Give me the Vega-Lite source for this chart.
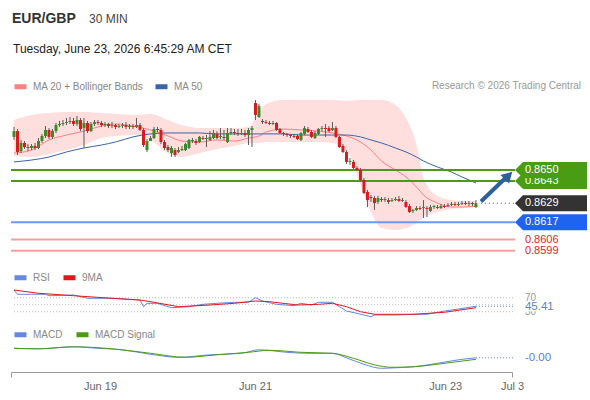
{
"$schema": "https://vega.github.io/schema/vega-lite/v6.json",
"width": 590, "height": 372,
"autosize": "none",
"padding": {"left": 0, "top": 0, "right": 0, "bottom": 28},
"background": "white",
"config": {
  "view": {"stroke": null},
  "font": "Liberation Sans",
  "legend": {"symbolType": "stroke", "symbolStrokeWidth": 5, "symbolSize": 144, "labelFontSize": 10, "labelColor": "#888888", "labelFont": "Liberation Sans", "columnPadding": 3, "labelOffset": 4, "padding": 0, "titlePadding": 0}
},
"datasets": {
"candles": [
{"i":0,"o":0.86709,"h":0.86772,"l":0.8669,"c":0.86746},
{"i":1,"o":0.86746,"h":0.86759,"l":0.86595,"c":0.86614},
{"i":2,"o":0.8662,"h":0.8669,"l":0.86607,"c":0.86671},
{"i":3,"o":0.86671,"h":0.86683,"l":0.86633,"c":0.86645},
{"i":4,"o":0.86645,"h":0.86664,"l":0.8662,"c":0.86639},
{"i":5,"o":0.86639,"h":0.86664,"l":0.86626,"c":0.86652},
{"i":6,"o":0.86652,"h":0.86671,"l":0.86626,"c":0.86639},
{"i":7,"o":0.86639,"h":0.86702,"l":0.86633,"c":0.86683},
{"i":8,"o":0.86683,"h":0.86728,"l":0.86671,"c":0.86715},
{"i":9,"o":0.86715,"h":0.86778,"l":0.86702,"c":0.86753},
{"i":10,"o":0.86753,"h":0.86765,"l":0.86696,"c":0.86709},
{"i":11,"o":0.86709,"h":0.86759,"l":0.86696,"c":0.86746},
{"i":12,"o":0.86746,"h":0.86797,"l":0.86734,"c":0.86784},
{"i":13,"o":0.86784,"h":0.8681,"l":0.86772,"c":0.86791},
{"i":14,"o":0.86791,"h":0.86816,"l":0.86778,"c":0.86797},
{"i":15,"o":0.86797,"h":0.86829,"l":0.86784,"c":0.86803},
{"i":16,"o":0.86803,"h":0.86835,"l":0.86791,"c":0.8681},
{"i":17,"o":0.8681,"h":0.86829,"l":0.86778,"c":0.86791},
{"i":18,"o":0.86791,"h":0.86841,"l":0.86778,"c":0.86816},
{"i":19,"o":0.86816,"h":0.86829,"l":0.86746,"c":0.86759},
{"i":20,"o":0.86765,"h":0.86829,"l":0.86639,"c":0.86797},
{"i":21,"o":0.86797,"h":0.8681,"l":0.86734,"c":0.86746},
{"i":22,"o":0.86746,"h":0.86803,"l":0.8674,"c":0.86791},
{"i":23,"o":0.86791,"h":0.86816,"l":0.86778,"c":0.86803},
{"i":24,"o":0.86803,"h":0.86816,"l":0.86784,"c":0.86797},
{"i":25,"o":0.86797,"h":0.8681,"l":0.86772,"c":0.86784},
{"i":26,"o":0.86784,"h":0.86803,"l":0.86772,"c":0.86791},
{"i":27,"o":0.86791,"h":0.86797,"l":0.86765,"c":0.86778},
{"i":28,"o":0.86778,"h":0.86803,"l":0.86765,"c":0.86784},
{"i":29,"o":0.86784,"h":0.86791,"l":0.86759,"c":0.86772},
{"i":30,"o":0.86772,"h":0.86791,"l":0.86765,"c":0.86778},
{"i":31,"o":0.86778,"h":0.86797,"l":0.86765,"c":0.86784},
{"i":32,"o":0.86784,"h":0.86803,"l":0.86759,"c":0.86772},
{"i":33,"o":0.86772,"h":0.86791,"l":0.86759,"c":0.86778},
{"i":34,"o":0.86778,"h":0.86791,"l":0.86759,"c":0.86772},
{"i":35,"o":0.86772,"h":0.86829,"l":0.86765,"c":0.86784},
{"i":36,"o":0.86784,"h":0.86797,"l":0.86746,"c":0.86753},
{"i":37,"o":0.86753,"h":0.86765,"l":0.86645,"c":0.86658},
{"i":38,"o":0.86626,"h":0.86696,"l":0.86614,"c":0.86683},
{"i":39,"o":0.86683,"h":0.86715,"l":0.86683,"c":0.86702},
{"i":40,"o":0.86702,"h":0.86772,"l":0.86696,"c":0.86759},
{"i":41,"o":0.86759,"h":0.86772,"l":0.8674,"c":0.86753},
{"i":42,"o":0.86753,"h":0.86765,"l":0.86664,"c":0.86677},
{"i":43,"o":0.86677,"h":0.8669,"l":0.86626,"c":0.86639},
{"i":44,"o":0.86645,"h":0.86658,"l":0.86614,"c":0.86626},
{"i":45,"o":0.86607,"h":0.86652,"l":0.86582,"c":0.86639},
{"i":46,"o":0.86626,"h":0.86639,"l":0.86582,"c":0.86595},
{"i":47,"o":0.86614,"h":0.86645,"l":0.86607,"c":0.86626},
{"i":48,"o":0.86626,"h":0.86652,"l":0.8662,"c":0.86633},
{"i":49,"o":0.86626,"h":0.86671,"l":0.8662,"c":0.86664},
{"i":50,"o":0.86639,"h":0.86696,"l":0.86633,"c":0.8669},
{"i":51,"o":0.86683,"h":0.86702,"l":0.86671,"c":0.8669},
{"i":52,"o":0.86683,"h":0.86696,"l":0.86658,"c":0.86671},
{"i":53,"o":0.86677,"h":0.86715,"l":0.86671,"c":0.86709},
{"i":54,"o":0.86702,"h":0.86715,"l":0.8669,"c":0.86696},
{"i":55,"o":0.86696,"h":0.86721,"l":0.86645,"c":0.86702},
{"i":56,"o":0.8669,"h":0.86746,"l":0.86683,"c":0.86709},
{"i":57,"o":0.86702,"h":0.86753,"l":0.86696,"c":0.86734},
{"i":58,"o":0.86728,"h":0.86746,"l":0.86696,"c":0.86702},
{"i":59,"o":0.86709,"h":0.86765,"l":0.86696,"c":0.86715},
{"i":60,"o":0.86709,"h":0.86753,"l":0.8669,"c":0.86702},
{"i":61,"o":0.86677,"h":0.86765,"l":0.86671,"c":0.86734},
{"i":62,"o":0.86734,"h":0.86765,"l":0.86721,"c":0.8674},
{"i":63,"o":0.8674,"h":0.86759,"l":0.86721,"c":0.86734},
{"i":64,"o":0.86734,"h":0.86759,"l":0.86715,"c":0.86728},
{"i":65,"o":0.86728,"h":0.86759,"l":0.86721,"c":0.86734},
{"i":66,"o":0.86734,"h":0.86753,"l":0.86709,"c":0.86721},
{"i":67,"o":0.86721,"h":0.86765,"l":0.86658,"c":0.86753},
{"i":68,"o":0.86753,"h":0.86778,"l":0.86645,"c":0.86765},
{"i":69,"o":0.86923,"h":0.86942,"l":0.86816,"c":0.86848},
{"i":70,"o":0.86835,"h":0.86917,"l":0.86829,"c":0.86904},
{"i":71,"o":0.8681,"h":0.86822,"l":0.86791,"c":0.86803},
{"i":72,"o":0.86803,"h":0.86816,"l":0.86791,"c":0.86797},
{"i":73,"o":0.86797,"h":0.8681,"l":0.86784,"c":0.86791},
{"i":74,"o":0.86791,"h":0.8681,"l":0.86784,"c":0.86797},
{"i":75,"o":0.86797,"h":0.86803,"l":0.86746,"c":0.86753},
{"i":76,"o":0.86759,"h":0.86765,"l":0.86728,"c":0.86734},
{"i":77,"o":0.86734,"h":0.8674,"l":0.86715,"c":0.86728},
{"i":78,"o":0.86728,"h":0.86734,"l":0.86709,"c":0.86721},
{"i":79,"o":0.86721,"h":0.86728,"l":0.86702,"c":0.86715},
{"i":80,"o":0.86715,"h":0.86728,"l":0.86702,"c":0.86709},
{"i":81,"o":0.86715,"h":0.86728,"l":0.8669,"c":0.86696},
{"i":82,"o":0.8669,"h":0.8674,"l":0.86683,"c":0.86734},
{"i":83,"o":0.86728,"h":0.86778,"l":0.86721,"c":0.86765},
{"i":84,"o":0.86759,"h":0.86772,"l":0.86734,"c":0.8674},
{"i":85,"o":0.8674,"h":0.86753,"l":0.86702,"c":0.86709},
{"i":86,"o":0.86702,"h":0.86746,"l":0.86696,"c":0.86734},
{"i":87,"o":0.86728,"h":0.86765,"l":0.86721,"c":0.86759},
{"i":88,"o":0.86759,"h":0.86778,"l":0.86746,"c":0.86765},
{"i":89,"o":0.86765,"h":0.86791,"l":0.86709,"c":0.86759},
{"i":90,"o":0.86765,"h":0.86778,"l":0.8674,"c":0.86746},
{"i":91,"o":0.86753,"h":0.86803,"l":0.86746,"c":0.86765},
{"i":92,"o":0.86765,"h":0.86778,"l":0.86702,"c":0.86709},
{"i":93,"o":0.86709,"h":0.86715,"l":0.86639,"c":0.86645},
{"i":94,"o":0.86652,"h":0.86664,"l":0.86607,"c":0.86614},
{"i":95,"o":0.86614,"h":0.86626,"l":0.86538,"c":0.86551},
{"i":96,"o":0.86551,"h":0.86576,"l":0.86532,"c":0.86557},
{"i":97,"o":0.86551,"h":0.86563,"l":0.86506,"c":0.86513},
{"i":98,"o":0.86513,"h":0.86525,"l":0.86494,"c":0.865},
{"i":99,"o":0.865,"h":0.86513,"l":0.8643,"c":0.86437},
{"i":100,"o":0.86437,"h":0.86449,"l":0.86348,"c":0.86355},
{"i":101,"o":0.86361,"h":0.86374,"l":0.86266,"c":0.8631},
{"i":102,"o":0.86329,"h":0.86342,"l":0.86298,"c":0.86323},
{"i":103,"o":0.86323,"h":0.86336,"l":0.86247,"c":0.86291},
{"i":104,"o":0.86298,"h":0.86336,"l":0.86285,"c":0.86323},
{"i":105,"o":0.86317,"h":0.86329,"l":0.86298,"c":0.8631},
{"i":106,"o":0.8631,"h":0.86329,"l":0.86298,"c":0.86317},
{"i":107,"o":0.8631,"h":0.86323,"l":0.86285,"c":0.86298},
{"i":108,"o":0.86304,"h":0.86323,"l":0.86298,"c":0.8631},
{"i":109,"o":0.8631,"h":0.86329,"l":0.86304,"c":0.86317},
{"i":110,"o":0.86317,"h":0.86336,"l":0.86298,"c":0.86304},
{"i":111,"o":0.86304,"h":0.86323,"l":0.86298,"c":0.8631},
{"i":112,"o":0.86298,"h":0.8631,"l":0.8626,"c":0.86266},
{"i":113,"o":0.86272,"h":0.86285,"l":0.86228,"c":0.86235},
{"i":114,"o":0.86241,"h":0.86254,"l":0.86228,"c":0.86247},
{"i":115,"o":0.86247,"h":0.86272,"l":0.86241,"c":0.8626},
{"i":116,"o":0.8626,"h":0.86272,"l":0.86247,"c":0.86254},
{"i":117,"o":0.8626,"h":0.8631,"l":0.86197,"c":0.86266},
{"i":118,"o":0.8626,"h":0.86272,"l":0.86203,"c":0.86254},
{"i":119,"o":0.86241,"h":0.86279,"l":0.86235,"c":0.86266},
{"i":120,"o":0.86266,"h":0.86279,"l":0.86254,"c":0.86272},
{"i":121,"o":0.86266,"h":0.86279,"l":0.86254,"c":0.8626},
{"i":122,"o":0.8626,"h":0.86285,"l":0.86254,"c":0.86272},
{"i":123,"o":0.86272,"h":0.86285,"l":0.8626,"c":0.86266},
{"i":124,"o":0.86272,"h":0.86291,"l":0.86266,"c":0.86279},
{"i":125,"o":0.86279,"h":0.86298,"l":0.86272,"c":0.86285},
{"i":126,"o":0.86285,"h":0.86298,"l":0.86272,"c":0.86279},
{"i":127,"o":0.86279,"h":0.86298,"l":0.86272,"c":0.86285},
{"i":128,"o":0.86285,"h":0.86304,"l":0.86279,"c":0.86291},
{"i":129,"o":0.86291,"h":0.86304,"l":0.86279,"c":0.86285},
{"i":130,"o":0.86285,"h":0.86304,"l":0.86272,"c":0.86291},
{"i":131,"o":0.86291,"h":0.86298,"l":0.86272,"c":0.86285},
{"i":132,"o":0.86266,"h":0.8631,"l":0.8626,"c":0.8629}
],
"bands": [
{"i":0,"up":0.86816,"lo":0.86588},{"i":5,"up":0.86848,"lo":0.86582},{"i":10,"up":0.8686,"lo":0.86601},
{"i":15,"up":0.86867,"lo":0.86626},{"i":20,"up":0.86867,"lo":0.86658},{"i":25,"up":0.8686,"lo":0.86702},
{"i":29,"up":0.86854,"lo":0.86715},{"i":34,"up":0.86848,"lo":0.86721},{"i":39,"up":0.86854,"lo":0.8669},
{"i":44,"up":0.86816,"lo":0.86607},{"i":48,"up":0.86784,"lo":0.86582},{"i":53,"up":0.86765,"lo":0.86607},
{"i":58,"up":0.86765,"lo":0.86633},{"i":63,"up":0.86765,"lo":0.86652},{"i":67,"up":0.86772,"lo":0.86671},
{"i":70,"up":0.86867,"lo":0.86671},{"i":72,"up":0.86917,"lo":0.86677},{"i":77,"up":0.86942,"lo":0.86677},
{"i":82,"up":0.86942,"lo":0.86677},{"i":87,"up":0.86942,"lo":0.86677},{"i":91,"up":0.86942,"lo":0.86671},
{"i":95,"up":0.86936,"lo":0.86626},{"i":99,"up":0.86942,"lo":0.86405},{"i":102,"up":0.86942,"lo":0.86235},
{"i":105,"up":0.86942,"lo":0.86133},{"i":109,"up":0.86911,"lo":0.86121},{"i":112,"up":0.86829,"lo":0.86133},
{"i":115,"up":0.86658,"lo":0.86165},{"i":117,"up":0.86449,"lo":0.86203},{"i":121,"up":0.86336,"lo":0.86235},
{"i":125,"up":0.8631,"lo":0.86254},{"i":128,"up":0.86304,"lo":0.8626},{"i":132,"up":0.86304,"lo":0.86266}
],
"ma": [
{"i":0,"s":"MA 20 + Bollinger Bands","v":0.86607},{"i":5,"s":"MA 20 + Bollinger Bands","v":0.86626},{"i":10,"s":"MA 20 + Bollinger Bands","v":0.8669},
{"i":15,"s":"MA 20 + Bollinger Bands","v":0.86721},{"i":20,"s":"MA 20 + Bollinger Bands","v":0.86746},{"i":25,"s":"MA 20 + Bollinger Bands","v":0.86778},
{"i":29,"s":"MA 20 + Bollinger Bands","v":0.86791},{"i":34,"s":"MA 20 + Bollinger Bands","v":0.86778},{"i":39,"s":"MA 20 + Bollinger Bands","v":0.86753},
{"i":44,"s":"MA 20 + Bollinger Bands","v":0.86715},{"i":48,"s":"MA 20 + Bollinger Bands","v":0.86683},{"i":53,"s":"MA 20 + Bollinger Bands","v":0.86677},
{"i":58,"s":"MA 20 + Bollinger Bands","v":0.8669},{"i":63,"s":"MA 20 + Bollinger Bands","v":0.86683},{"i":67,"s":"MA 20 + Bollinger Bands","v":0.86702},
{"i":70,"s":"MA 20 + Bollinger Bands","v":0.86715},{"i":72,"s":"MA 20 + Bollinger Bands","v":0.8674},{"i":77,"s":"MA 20 + Bollinger Bands","v":0.86759},
{"i":82,"s":"MA 20 + Bollinger Bands","v":0.86753},{"i":87,"s":"MA 20 + Bollinger Bands","v":0.86746},{"i":91,"s":"MA 20 + Bollinger Bands","v":0.86734},
{"i":95,"s":"MA 20 + Bollinger Bands","v":0.86715},{"i":99,"s":"MA 20 + Bollinger Bands","v":0.86677},{"i":102,"s":"MA 20 + Bollinger Bands","v":0.86626},
{"i":105,"s":"MA 20 + Bollinger Bands","v":0.86557},{"i":109,"s":"MA 20 + Bollinger Bands","v":0.865},{"i":112,"s":"MA 20 + Bollinger Bands","v":0.86456},
{"i":115,"s":"MA 20 + Bollinger Bands","v":0.86393},{"i":117,"s":"MA 20 + Bollinger Bands","v":0.86342},{"i":121,"s":"MA 20 + Bollinger Bands","v":0.86291},
{"i":125,"s":"MA 20 + Bollinger Bands","v":0.86266},{"i":128,"s":"MA 20 + Bollinger Bands","v":0.86266},{"i":132,"s":"MA 20 + Bollinger Bands","v":0.86272},
{"i":0,"s":"MA 50","v":0.86551},{"i":5,"s":"MA 50","v":0.86563},{"i":10,"s":"MA 50","v":0.86582},
{"i":15,"s":"MA 50","v":0.86614},{"i":20,"s":"MA 50","v":0.86639},{"i":25,"s":"MA 50","v":0.86658},
{"i":29,"s":"MA 50","v":0.86677},{"i":34,"s":"MA 50","v":0.86709},{"i":39,"s":"MA 50","v":0.86728},
{"i":44,"s":"MA 50","v":0.86734},{"i":48,"s":"MA 50","v":0.86734},{"i":53,"s":"MA 50","v":0.86734},
{"i":58,"s":"MA 50","v":0.86728},{"i":63,"s":"MA 50","v":0.86728},{"i":67,"s":"MA 50","v":0.86728},
{"i":72,"s":"MA 50","v":0.86728},{"i":77,"s":"MA 50","v":0.86728},{"i":82,"s":"MA 50","v":0.86721},
{"i":87,"s":"MA 50","v":0.86721},{"i":91,"s":"MA 50","v":0.86721},{"i":95,"s":"MA 50","v":0.86721},
{"i":99,"s":"MA 50","v":0.86709},{"i":102,"s":"MA 50","v":0.8669},{"i":105,"s":"MA 50","v":0.86671},
{"i":109,"s":"MA 50","v":0.86639},{"i":112,"s":"MA 50","v":0.86614},{"i":115,"s":"MA 50","v":0.86582},
{"i":117,"s":"MA 50","v":0.86557},{"i":121,"s":"MA 50","v":0.86519},{"i":125,"s":"MA 50","v":0.86487},
{"i":128,"s":"MA 50","v":0.86456},{"i":132,"s":"MA 50","v":0.86418}
],
"levels": [
{"p":0.865,"kind":"target"},{"p":0.8643,"kind":"target"},{"p":0.8629,"kind":"last"},
{"p":0.8617,"kind":"pivot"},{"p":0.8606,"kind":"support"},{"p":0.8599,"kind":"support"}
],
"rsi": [
{"i":0,"s":"RSI","v":92},{"i":1,"s":"RSI","v":79.7},{"i":5,"s":"RSI","v":79.7},{"i":9,"s":"RSI","v":79.7},
{"i":10,"s":"RSI","v":75.7},{"i":17,"s":"RSI","v":77.7},{"i":21,"s":"RSI","v":68.3},{"i":28,"s":"RSI","v":68.3},
{"i":36,"s":"RSI","v":63.4},{"i":37,"s":"RSI","v":44.3},{"i":38,"s":"RSI","v":54},{"i":41,"s":"RSI","v":54},
{"i":45,"s":"RSI","v":41.4},{"i":50,"s":"RSI","v":44.3},{"i":54,"s":"RSI","v":51.1},{"i":58,"s":"RSI","v":54},
{"i":63,"s":"RSI","v":56.9},{"i":67,"s":"RSI","v":56.9},{"i":69,"s":"RSI","v":70},{"i":71,"s":"RSI","v":60.6},
{"i":75,"s":"RSI","v":51.1},{"i":80,"s":"RSI","v":47.1},{"i":82,"s":"RSI","v":54},{"i":85,"s":"RSI","v":49.1},
{"i":87,"s":"RSI","v":56.9},{"i":91,"s":"RSI","v":56.9},{"i":93,"s":"RSI","v":44.3},{"i":95,"s":"RSI","v":32},
{"i":98,"s":"RSI","v":25.4},{"i":102,"s":"RSI","v":15.7},{"i":103,"s":"RSI","v":20.6},{"i":109,"s":"RSI","v":20.6},
{"i":114,"s":"RSI","v":22.6},{"i":118,"s":"RSI","v":22.6},{"i":123,"s":"RSI","v":32},{"i":127,"s":"RSI","v":37.7},
{"i":132,"s":"RSI","v":45.41},
{"i":0,"s":"9MA","v":92},{"i":7,"s":"9MA","v":82.6},{"i":17,"s":"9MA","v":75.7},{"i":28,"s":"9MA","v":68.3},
{"i":36,"s":"9MA","v":63.4},{"i":40,"s":"9MA","v":56.9},{"i":47,"s":"9MA","v":44.3},{"i":56,"s":"9MA","v":49.1},
{"i":63,"s":"9MA","v":54},{"i":69,"s":"9MA","v":60.6},{"i":73,"s":"9MA","v":58.6},{"i":81,"s":"9MA","v":49.1},
{"i":87,"s":"9MA","v":51.1},{"i":91,"s":"9MA","v":54},{"i":95,"s":"9MA","v":44.3},{"i":99,"s":"9MA","v":30},
{"i":103,"s":"9MA","v":22.6},{"i":114,"s":"9MA","v":22.6},{"i":123,"s":"9MA","v":28.3},{"i":132,"s":"9MA","v":41.4}
],
"rsigrid": [{"v":70},{"v":50},{"v":30}],
"macd": [
{"i":0,"s":"MACD","v":0.00018},{"i":7,"s":"MACD","v":0.00017},{"i":17,"s":"MACD","v":0.00021},{"i":24,"s":"MACD","v":0.00018},
{"i":31,"s":"MACD","v":0.00015},{"i":39,"s":"MACD","v":0.00006},{"i":47,"s":"MACD","v":0},{"i":56,"s":"MACD","v":0.00005},
{"i":65,"s":"MACD","v":0.00008},{"i":70,"s":"MACD","v":0.00015},{"i":78,"s":"MACD","v":0.0001},{"i":84,"s":"MACD","v":0.00008},
{"i":91,"s":"MACD","v":0.00008},{"i":95,"s":"MACD","v":-0.00001},{"i":100,"s":"MACD","v":-0.00014},{"i":105,"s":"MACD","v":-0.00022},
{"i":109,"s":"MACD","v":-0.00021},{"i":114,"s":"MACD","v":-0.00019},{"i":121,"s":"MACD","v":-0.00012},{"i":127,"s":"MACD","v":-0.00005},
{"i":132,"s":"MACD","v":-0.00001},
{"i":0,"s":"MACD Signal","v":0.00018},{"i":7,"s":"MACD Signal","v":0.00017},{"i":17,"s":"MACD Signal","v":0.00021},{"i":28,"s":"MACD Signal","v":0.00017},
{"i":39,"s":"MACD Signal","v":0.00008},{"i":49,"s":"MACD Signal","v":0},{"i":58,"s":"MACD Signal","v":0.00005},{"i":67,"s":"MACD Signal","v":0.0001},
{"i":73,"s":"MACD Signal","v":0.00014},{"i":82,"s":"MACD Signal","v":0.0001},{"i":91,"s":"MACD Signal","v":0.00008},{"i":97,"s":"MACD Signal","v":-0.00002},
{"i":103,"s":"MACD Signal","v":-0.00015},{"i":108,"s":"MACD Signal","v":-0.0002},{"i":114,"s":"MACD Signal","v":-0.00019},{"i":123,"s":"MACD Signal","v":-0.00012},
{"i":132,"s":"MACD Signal","v":-0.00004}
]
},
"resolve": {"scale": {"y": "independent", "color": "independent", "strokeWidth": "independent"}, "legend": {"color": "independent"}},
"layer": [
{"data": {"name": "bands"},
 "mark": {"type": "area", "interpolate": "monotone", "color": "#ffdede"},
 "encoding": {
  "x": {"field": "i", "type": "quantitative", "title": null, "scale": {"domain": [-0.857, 142.3], "range": [11, 512], "nice": false, "zero": false, "padding": 0},
   "axis": {"orient": "bottom", "values": [-0.857, 24.57, 68.86, 123.2, 142.3], "labelExpr": "datum.value < 0 ? '' : datum.value < 40 ? 'Jun 19' : datum.value < 100 ? 'Jun 21' : datum.value < 130 ? 'Jun 23' : 'Jul 3'", "title": null, "grid": false, "domain": true, "ticks": true, "labels": true, "domainColor": "#999999", "tickColor": "#999999", "tickSize": 5, "tickOpacity": {"condition": {"test": "datum.value < 0 || datum.value > 140", "value": 1}, "value": 0}, "labelFontSize": 11, "labelColor": "#666666", "labelFont": "Liberation Sans", "labelPadding": 3, "labelFlush": false, "labelOverlap": false, "labelBound": false}},
  "y": {"field": "up", "type": "quantitative", "scale": {"domain": [0.859, 0.87], "range": [264.94, 90.89], "nice": false, "zero": false}, "axis": null},
  "y2": {"field": "lo"}
 }},
{"data": {"name": "ma"},
 "mark": {"type": "line", "interpolate": "monotone", "strokeWidth": 1},
 "encoding": {
  "x": {"field": "i", "type": "quantitative", "title": null, "scale": {"domain": [-0.857, 142.3], "range": [11, 512], "nice": false, "zero": false, "padding": 0}},
  "y": {"field": "v", "type": "quantitative", "scale": {"domain": [0.859, 0.87], "range": [264.94, 90.89], "nice": false, "zero": false}, "axis": null},
  "color": {"field": "s", "type": "nominal", "scale": {"domain": ["MA 20 + Bollinger Bands", "MA 50"], "range": ["#ff8080", "#3a64a4"]},
   "legend": {"title": null, "orient": "none", "legendX": 12, "legendY": 78, "direction": "horizontal", "columnPadding": 1}}
 }},
{"data": {"name": "levels"},
 "transform": [{"filter": "datum.kind != 'last'"}],
 "mark": {"type": "rule"},
 "encoding": {
  "x": {"datum": -0.857, "type": "quantitative", "title": null, "scale": {"domain": [-0.857, 142.3], "range": [11, 512], "nice": false, "zero": false, "padding": 0}},
  "x2": {"datum": 143.16},
  "y": {"field": "p", "type": "quantitative", "scale": {"domain": [0.859, 0.87], "range": [264.94, 90.89], "nice": false, "zero": false}, "axis": null},
  "color": {"field": "kind", "type": "nominal", "scale": {"domain": ["target", "pivot", "support"], "range": ["#4a9c14", "#6b98f4", "#f4a0a0"]}, "legend": null},
  "strokeWidth": {"field": "kind", "type": "nominal", "scale": {"domain": ["target", "pivot", "support"], "range": [2, 2, 1]}, "legend": null}
 }},
{"data": {"name": "candles"},
 "mark": {"type": "rule", "color": "#5a5a5a", "strokeWidth": 1},
 "encoding": {
  "x": {"field": "i", "type": "quantitative", "title": null, "scale": {"domain": [-0.857, 142.3], "range": [11, 512], "nice": false, "zero": false, "padding": 0}},
  "y": {"field": "l", "type": "quantitative", "scale": {"domain": [0.859, 0.87], "range": [264.94, 90.89], "nice": false, "zero": false}, "axis": null},
  "y2": {"field": "h"}
 }},
{"data": {"name": "candles"},
 "mark": {"type": "bar", "width": 3},
 "encoding": {
  "x": {"field": "i", "type": "quantitative", "title": null, "scale": {"domain": [-0.857, 142.3], "range": [11, 512], "nice": false, "zero": false, "padding": 0}},
  "y": {"field": "o", "type": "quantitative", "scale": {"domain": [0.859, 0.87], "range": [264.94, 90.89], "nice": false, "zero": false}, "axis": null},
  "y2": {"field": "c"},
  "color": {"condition": {"test": "datum.c >= datum.o", "value": "#3b8a2a"}, "value": "#d81c1c"}
 }},
{"data": {"name": "levels"},
 "transform": [{"filter": "datum.kind == 'last'"}],
 "mark": {"type": "rule", "color": "#555555", "strokeDash": [1, 3], "strokeWidth": 1},
 "encoding": {
  "x": {"datum": 133.4, "type": "quantitative", "title": null, "scale": {"domain": [-0.857, 142.3], "range": [11, 512], "nice": false, "zero": false, "padding": 0}},
  "x2": {"datum": 143.16},
  "y": {"field": "p", "type": "quantitative", "scale": {"domain": [0.859, 0.87], "range": [264.94, 90.89], "nice": false, "zero": false}, "axis": null}
 }},
{"data": {"values": [{}]},
 "mark": {"type": "rule", "color": "#2e5f9f", "strokeWidth": 4},
 "encoding": {
  "x": {"datum": 133.44, "type": "quantitative", "title": null, "scale": {"domain": [-0.857, 142.3], "range": [11, 512], "nice": false, "zero": false, "padding": 0}},
  "x2": {"datum": 140.87},
  "y": {"datum": 0.86301, "type": "quantitative", "scale": {"domain": [0.859, 0.87], "range": [264.94, 90.89], "nice": false, "zero": false}, "axis": null},
  "y2": {"datum": 0.86459}
 }},
{"data": {"values": [{}]},
 "mark": {"type": "point", "shape": "triangle-up", "angle": 45, "size": 150, "filled": true, "opacity": 1, "color": "#2e5f9f"},
 "encoding": {
  "x": {"datum": 141.3, "type": "quantitative", "title": null, "scale": {"domain": [-0.857, 142.3], "range": [11, 512], "nice": false, "zero": false, "padding": 0}},
  "y": {"datum": 0.86465, "type": "quantitative", "scale": {"domain": [0.859, 0.87], "range": [264.94, 90.89], "nice": false, "zero": false}, "axis": null}
 }},
{"data": {"name": "levels"},
 "transform": [{"filter": "datum.kind != 'support' && datum.p < 0.8649"}],
 "mark": {"type": "point", "shape": "M0,0L1,-1L9,-1L9,1L1,1Z", "size": 256, "filled": true, "opacity": 1, "strokeWidth": 0},
 "encoding": {
  "x": {"datum": 143.16, "type": "quantitative", "title": null, "scale": {"domain": [-0.857, 142.3], "range": [11, 512], "nice": false, "zero": false, "padding": 0}},
  "y": {"field": "p", "type": "quantitative", "scale": {"domain": [0.859, 0.87], "range": [264.94, 90.89], "nice": false, "zero": false}, "axis": null},
  "color": {"field": "kind", "type": "nominal", "scale": {"domain": ["target", "last", "pivot"], "range": ["#4a9c14", "#333333", "#1f64f0"]}, "legend": null}
 }},
{"data": {"name": "levels"},
 "transform": [{"filter": "datum.kind != 'support' && datum.p < 0.8649"}],
 "mark": {"type": "text", "align": "left", "baseline": "middle", "fontSize": 11, "color": "white", "font": "Liberation Sans"},
 "encoding": {
  "x": {"datum": 146.0, "type": "quantitative", "title": null, "scale": {"domain": [-0.857, 142.3], "range": [11, 512], "nice": false, "zero": false, "padding": 0}},
  "y": {"field": "p", "type": "quantitative", "scale": {"domain": [0.859, 0.87], "range": [264.94, 90.89], "nice": false, "zero": false}, "axis": null},
  "text": {"field": "p", "type": "quantitative", "format": ".4f"}
 }},
{"data": {"name": "levels"},
 "transform": [{"filter": "datum.p > 0.8649"}],
 "mark": {"type": "point", "shape": "M0,0L1,-1L9,-1L9,1L1,1Z", "size": 256, "filled": true, "opacity": 1, "strokeWidth": 0, "color": "#4a9c14"},
 "encoding": {
  "x": {"datum": 143.16, "type": "quantitative", "title": null, "scale": {"domain": [-0.857, 142.3], "range": [11, 512], "nice": false, "zero": false, "padding": 0}},
  "y": {"field": "p", "type": "quantitative", "scale": {"domain": [0.859, 0.87], "range": [264.94, 90.89], "nice": false, "zero": false}, "axis": null}
 }},
{"data": {"name": "levels"},
 "transform": [{"filter": "datum.p > 0.8649"}],
 "mark": {"type": "text", "align": "left", "baseline": "middle", "fontSize": 11, "color": "white", "font": "Liberation Sans"},
 "encoding": {
  "x": {"datum": 146.0, "type": "quantitative", "title": null, "scale": {"domain": [-0.857, 142.3], "range": [11, 512], "nice": false, "zero": false, "padding": 0}},
  "y": {"field": "p", "type": "quantitative", "scale": {"domain": [0.859, 0.87], "range": [264.94, 90.89], "nice": false, "zero": false}, "axis": null},
  "text": {"field": "p", "type": "quantitative", "format": ".4f"}
 }},
{"data": {"name": "levels"},
 "transform": [{"filter": "datum.kind == 'support'"}],
 "mark": {"type": "text", "align": "left", "baseline": "middle", "fontSize": 11, "color": "#e42424", "font": "Liberation Sans"},
 "encoding": {
  "x": {"datum": 146.0, "type": "quantitative", "title": null, "scale": {"domain": [-0.857, 142.3], "range": [11, 512], "nice": false, "zero": false, "padding": 0}},
  "y": {"field": "p", "type": "quantitative", "scale": {"domain": [0.859, 0.87], "range": [264.94, 90.89], "nice": false, "zero": false}, "axis": null},
  "text": {"field": "p", "type": "quantitative", "format": ".4f"}
 }},
{"data": {"name": "rsigrid"},
 "mark": {"type": "rule", "color": "#bbbbbb", "strokeDash": [1, 2], "strokeWidth": 1},
 "encoding": {
  "x": {"datum": 0, "type": "quantitative", "title": null, "scale": {"domain": [-0.857, 142.3], "range": [11, 512], "nice": false, "zero": false, "padding": 0}},
  "x2": {"datum": 143.16},
  "y": {"field": "v", "type": "quantitative", "scale": {"domain": [0, 100], "range": [322.2, 287.2], "nice": false, "zero": false}, "axis": null}
 }},
{"data": {"name": "rsi"},
 "mark": {"type": "line", "strokeWidth": 1},
 "encoding": {
  "x": {"field": "i", "type": "quantitative", "title": null, "scale": {"domain": [-0.857, 142.3], "range": [11, 512], "nice": false, "zero": false, "padding": 0}},
  "y": {"field": "v", "type": "quantitative", "scale": {"domain": [0, 100], "range": [322.2, 287.2], "nice": false, "zero": false}, "axis": null},
  "color": {"field": "s", "type": "nominal", "scale": {"domain": ["RSI", "9MA"], "range": ["#6688e0", "#e5161b"]},
   "legend": {"title": null, "orient": "none", "legendX": 12, "legendY": 269, "direction": "horizontal"}}
 }},
{"data": {"name": "rsi"},
 "transform": [{"filter": "datum.i == 132 && datum.s == 'RSI'"}],
 "mark": {"type": "rule", "color": "#6688e0", "strokeDash": [1, 2], "strokeWidth": 1},
 "encoding": {
  "x": {"datum": 132, "type": "quantitative", "title": null, "scale": {"domain": [-0.857, 142.3], "range": [11, 512], "nice": false, "zero": false, "padding": 0}},
  "x2": {"datum": 143.16},
  "y": {"field": "v", "type": "quantitative", "scale": {"domain": [0, 100], "range": [322.2, 287.2], "nice": false, "zero": false}, "axis": null}
 }},
{"data": {"name": "rsigrid"},
 "transform": [{"filter": "datum.v != 50"}],
 "mark": {"type": "text", "align": "left", "baseline": "middle", "fontSize": 10, "color": "#999999", "font": "Liberation Sans"},
 "encoding": {
  "x": {"datum": 146.0, "type": "quantitative", "title": null, "scale": {"domain": [-0.857, 142.3], "range": [11, 512], "nice": false, "zero": false, "padding": 0}},
  "y": {"field": "v", "type": "quantitative", "scale": {"domain": [0, 100], "range": [322.2, 287.2], "nice": false, "zero": false}, "axis": null},
  "text": {"field": "v", "type": "quantitative"}
 }},
{"data": {"name": "rsi"},
 "transform": [{"filter": "datum.i == 132 && datum.s == 'RSI'"}],
 "mark": {"type": "point", "shape": "M0,-2H12V2H0Z", "size": 25, "filled": true, "opacity": 1, "color": "white", "strokeWidth": 0},
 "encoding": {
  "x": {"datum": 145.6, "type": "quantitative", "title": null, "scale": {"domain": [-0.857, 142.3], "range": [11, 512], "nice": false, "zero": false, "padding": 0}},
  "y": {"field": "v", "type": "quantitative", "scale": {"domain": [0, 100], "range": [322.2, 287.2], "nice": false, "zero": false}, "axis": null}
 }},
{"data": {"name": "rsi"},
 "transform": [{"filter": "datum.i == 132 && datum.s == 'RSI'"}],
 "mark": {"type": "text", "align": "left", "baseline": "middle", "fontSize": 11.5, "dy": 1, "color": "#5b7fdc", "font": "Liberation Sans"},
 "encoding": {
  "x": {"datum": 146.0, "type": "quantitative", "title": null, "scale": {"domain": [-0.857, 142.3], "range": [11, 512], "nice": false, "zero": false, "padding": 0}},
  "y": {"field": "v", "type": "quantitative", "scale": {"domain": [0, 100], "range": [322.2, 287.2], "nice": false, "zero": false}, "axis": null},
  "text": {"field": "v", "type": "quantitative", "format": ".2f"}
 }},
{"data": {"name": "macd"},
 "mark": {"type": "line", "strokeWidth": 1, "interpolate": "monotone"},
 "encoding": {
  "x": {"field": "i", "type": "quantitative", "title": null, "scale": {"domain": [-0.857, 142.3], "range": [11, 512], "nice": false, "zero": false, "padding": 0}},
  "y": {"field": "v", "type": "quantitative", "scale": {"domain": [-0.0005, 0.0005], "range": [382.3, 332.3], "nice": false, "zero": false}, "axis": null},
  "color": {"field": "s", "type": "nominal", "scale": {"domain": ["MACD", "MACD Signal"], "range": ["#6688e0", "#4a9c14"]},
   "legend": {"title": null, "orient": "none", "legendX": 12, "legendY": 326, "direction": "horizontal"}}
 }},
{"data": {"name": "macd"},
 "transform": [{"filter": "datum.i == 132 && datum.s == 'MACD'"}],
 "mark": {"type": "rule", "color": "#6688e0", "strokeDash": [1, 2], "strokeWidth": 1},
 "encoding": {
  "x": {"datum": 132, "type": "quantitative", "title": null, "scale": {"domain": [-0.857, 142.3], "range": [11, 512], "nice": false, "zero": false, "padding": 0}},
  "x2": {"datum": 143.16},
  "y": {"field": "v", "type": "quantitative", "scale": {"domain": [-0.0005, 0.0005], "range": [382.3, 332.3], "nice": false, "zero": false}, "axis": null}
 }},
{"data": {"name": "macd"},
 "transform": [{"filter": "datum.i == 132 && datum.s == 'MACD'"}],
 "mark": {"type": "text", "align": "left", "baseline": "middle", "fontSize": 11.5, "color": "#5b7fdc", "font": "Liberation Sans"},
 "encoding": {
  "x": {"datum": 146.0, "type": "quantitative", "title": null, "scale": {"domain": [-0.857, 142.3], "range": [11, 512], "nice": false, "zero": false, "padding": 0}},
  "y": {"field": "v", "type": "quantitative", "scale": {"domain": [-0.0005, 0.0005], "range": [382.3, 332.3], "nice": false, "zero": false}, "axis": null},
  "text": {"value": "-0.00"}
 }},
{"data": {"values": [{}]},
 "mark": {"type": "text", "align": "left", "baseline": "middle", "fontSize": 14, "fontWeight": "bold", "color": "#333333", "font": "Liberation Sans"},
 "encoding": {"x": {"value": 12}, "y": {"value": 19}, "text": {"value": "EUR/GBP"}}},
{"data": {"values": [{}]},
 "mark": {"type": "text", "align": "left", "baseline": "middle", "fontSize": 12, "color": "#444444", "font": "Liberation Sans"},
 "encoding": {"x": {"value": 89}, "y": {"value": 19}, "text": {"value": "30 MIN"}}},
{"data": {"values": [{}]},
 "mark": {"type": "text", "align": "left", "baseline": "middle", "fontSize": 12, "color": "#222222", "font": "Liberation Sans"},
 "encoding": {"x": {"value": 13}, "y": {"value": 49}, "text": {"value": "Tuesday, June 23, 2026 6:45:29 AM CET"}}},
{"data": {"values": [{}]},
 "mark": {"type": "text", "align": "right", "baseline": "middle", "fontSize": 10, "color": "#999999", "font": "Liberation Sans"},
 "encoding": {"x": {"value": 581}, "y": {"value": 86}, "text": {"value": "Research © 2026 Trading Central"}}}
]
}
